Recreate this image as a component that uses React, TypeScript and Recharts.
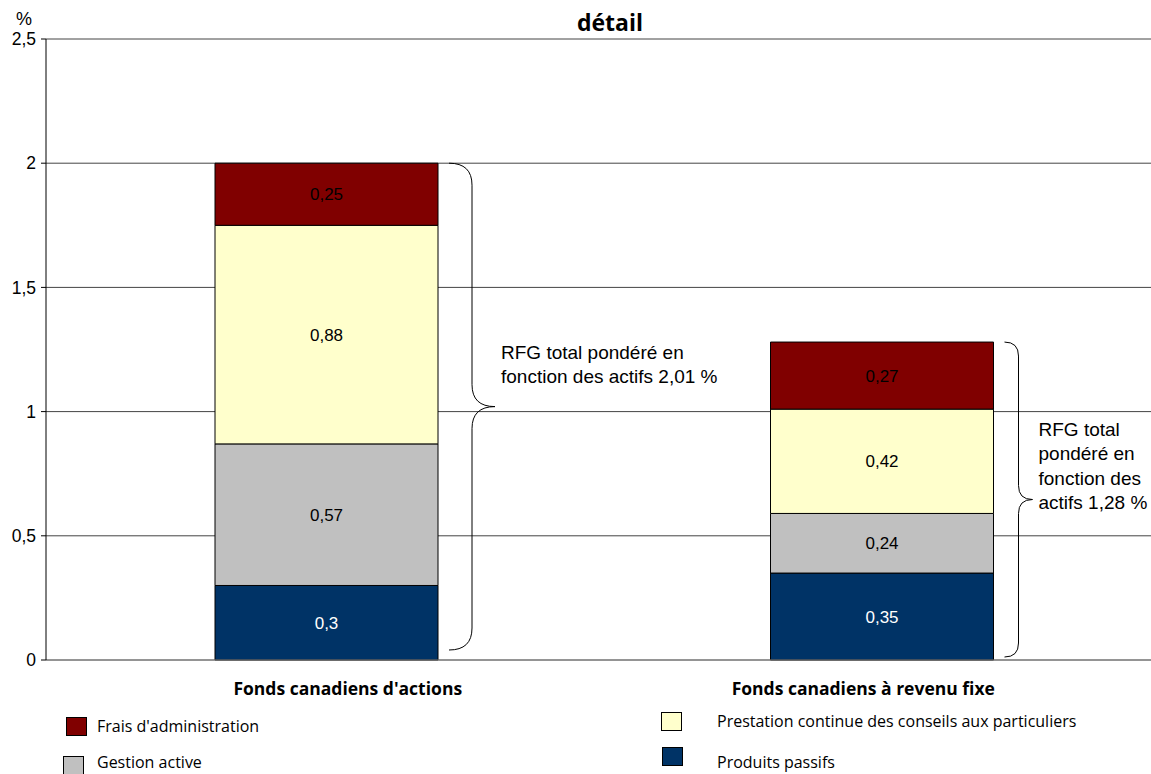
import { BarChart, Bar, XAxis, YAxis, CartesianGrid, LabelList } from 'recharts';

const categories = ["Fonds canadiens d'actions", 'Fonds canadiens à revenu fixe'];
const produitsPassifs = [0.3, 0.35];
const gestionActive = [0.57, 0.24];
const prestation = [0.88, 0.42];
const frais = [0.25, 0.27];
const rfgLabels = [
  ['RFG total pondéré en', 'fonction des actifs 2,01 %'],
  ['RFG total', 'pondéré en', 'fonction des', 'actifs 1,28 %'],
];
const yTicks = [0, 0.5, 1, 1.5, 2, 2.5];

const series = [
  { key: 'passifs', name: 'Produits passifs', color: '#003366', text: '#fff' },
  { key: 'gestion', name: 'Gestion active', color: '#C0C0C0', text: '#000' },
  { key: 'prestation', name: 'Prestation continue des conseils aux particuliers', color: '#FFFFCC', text: '#000' },
  { key: 'frais', name: "Frais d'administration", color: '#800000', text: '#000' },
];

const data = categories.map((c, i) => ({
  name: c,
  passifs: produitsPassifs[i],
  gestion: gestionActive[i],
  prestation: prestation[i],
  frais: frais[i],
  total: produitsPassifs[i] + gestionActive[i] + prestation[i] + frais[i],
  rfg: rfgLabels[i],
}));

const fmt = (v: number) => String(v).replace('.', ',');
const ARIAL = '"Liberation Sans", Arial, sans-serif';
const CALIBRI = '"Open Sans", Lato, sans-serif';

// brace width, text offset and label shift per category
const braceW = [46, 28];
const textDy = [-48, -64];
const labelDx = [21, -19];

function Brace(props: any) {
  const { x, y, width, height, index, payload } = props;
  const w = braceW[index] ?? 30;
  const x0 = x + width + 11;
  const x1 = x0 + w;
  const xm = x0 + w / 2;
  const top = y;
  const bot = y + height - (index === 0 ? 10 : 3);
  const mid = (top + bot) / 2;
  const r = Math.min(w / 2, 22);
  const d = `M${x0},${top} Q${xm},${top} ${xm},${top + r} L${xm},${mid - r} Q${xm},${mid} ${x1},${mid} Q${xm},${mid} ${xm},${mid + r} L${xm},${bot - r} Q${xm},${bot} ${x0},${bot}`;
  const lines: string[] = payload.rfg;
  return (
    <g>
      <path d={d} fill="none" stroke="#000" strokeWidth={1} />
      <text x={x1 + 6} y={mid + textDy[index]} fontFamily={ARIAL} fontSize={19} fill="#000">
        {lines.map((l, i) => (
          <tspan key={i} x={x1 + 6} dy={i === 0 ? 0 : 24.5}>
            {l}
          </tspan>
        ))}
      </text>
    </g>
  );
}

function CatTick(props: any) {
  const { x, y, payload, index } = props;
  return (
    <text x={x + (labelDx[index] ?? 0)} y={y + 27} textAnchor="middle" fontFamily={CALIBRI} fontWeight={700} fontSize={17.5} fill="#000">
      {payload.value}
    </text>
  );
}

const legendItems = [
  { s: series[3], left: 66, top: 717, tx: 97, ty: 726 },
  { s: series[1], left: 63, top: 756, tx: 97, ty: 762 },
  { s: series[2], left: 661, top: 712, tx: 717, ty: 721 },
  { s: series[0], left: 662, top: 747, tx: 717, ty: 762 },
];

export default function App() {
  return (
    <div style={{ position: 'absolute', left: 0, top: 0, width: 1151, height: 774, background: '#fff', overflow: 'hidden' }}>
      <BarChart width={1151} height={774} data={data} margin={{ top: 39, right: -9, left: 0, bottom: 0 }}>
        <CartesianGrid vertical={false} stroke="#444" />
        <XAxis
          dataKey="name"
          height={114}
          tickLine={false}
          axisLine={{ stroke: '#888' }}
          tick={<CatTick />}
          padding={{ left: 3, right: 0 }}
        />
        <XAxis xAxisId="brace" dataKey="name" hide padding={{ left: 3, right: 0 }} />
        <YAxis
          domain={[0, 2.5]}
          ticks={yTicks}
          width={46}
          tickFormatter={fmt}
          tickSize={5}
          tickMargin={5}
          axisLine={{ stroke: '#000' }}
          tickLine={{ stroke: '#000' }}
          tick={{ fill: '#000', fontFamily: ARIAL, fontSize: 17.5 }}
          interval={0}
        />
        {series.map((s) => (
          <Bar key={s.key} dataKey={s.key} stackId="a" barSize={223} fill={s.color} stroke="#000" strokeWidth={1} isAnimationActive={false}>
            <LabelList dataKey={s.key} position="center" formatter={(v: any) => fmt(v)} fill={s.text} fontFamily={ARIAL} fontSize={17} />
          </Bar>
        ))}
        <Bar dataKey="total" xAxisId="brace" barSize={223} shape={<Brace />} isAnimationActive={false} />
      </BarChart>
      <div style={{ position: 'absolute', left: 16, top: 8, fontFamily: ARIAL, fontSize: 18, lineHeight: '22px' }}>%</div>
      <div style={{ position: 'absolute', left: 0, width: 1220, top: 7, textAlign: 'center', fontFamily: CALIBRI, fontWeight: 700, fontSize: 23, lineHeight: '30px' }}>
        détail
      </div>
      {legendItems.map((it) => (
        <div key={it.s.key}>
          <div
            style={{
              position: 'absolute',
              left: it.left,
              top: it.top,
              width: 19,
              height: 17,
              background: it.s.color,
              border: '1px solid #000',
            }}
          />
          <div
            style={{
              position: 'absolute',
              left: it.tx,
              top: it.ty - 11,
              fontFamily: CALIBRI,
              fontSize: 16,
              lineHeight: '22px',
              color: '#000',
              whiteSpace: 'nowrap',
            }}
          >
            {it.s.name}
          </div>
        </div>
      ))}
    </div>
  );
}
